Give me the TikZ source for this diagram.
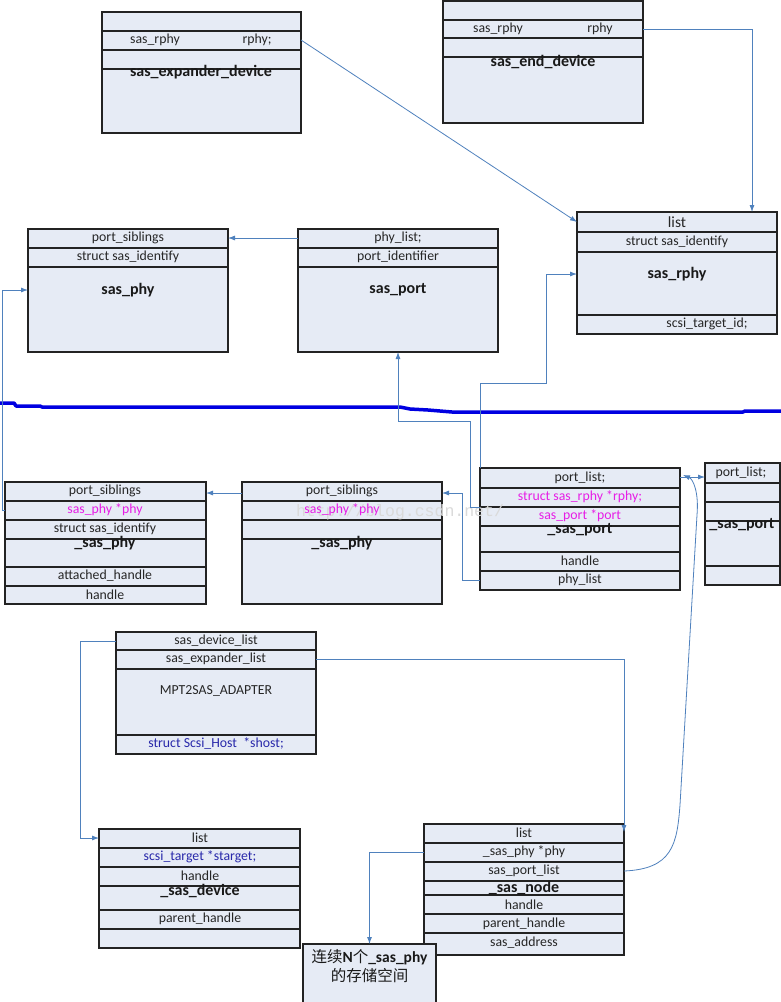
\documentclass[tikz,border=0pt]{standalone}
\usepackage{fontspec}
\setmainfont{Carlito}
\newfontfamily\cjk{Noto Sans CJK SC}
\newfontfamily\wmfont{Liberation Mono}
\usetikzlibrary{arrows.meta}
\definecolor{boxfill}{RGB}{230,235,245}
\definecolor{boxline}{RGB}{35,35,35}
\definecolor{conncol}{RGB}{79,129,189}
\definecolor{magtext}{RGB}{230,30,230}
\definecolor{bluetext}{RGB}{40,40,170}
\definecolor{sepblue}{RGB}{0,0,225}
\definecolor{wmgray}{RGB}{218,218,218}
\newcommand\boxrow[2]{\draw[rowln] (#1.west |- 0,#2) -- (#1.east |- 0,#2);}
\tikzset{
  sbox/.style={draw=boxline, fill=boxfill, line width=1.2pt, inner sep=0pt, outer sep=0pt, anchor=north west},
  rowln/.style={draw=boxline, line width=1.1pt},
  txt/.style={inner sep=0pt, font=\fontsize{13.8}{15}\selectfont, text=black!85},
  btxt/.style={inner sep=0pt, font=\fontsize{16}{17}\selectfont\bfseries, text=black!90},
  mtxt/.style={txt, text=magtext},
  bltxt/.style={txt, text=bluetext},
  conn/.style={draw=conncol, line width=0.8pt},
  arr/.style={conn, -{Latex[length=7pt,width=5pt]}},
}
\begin{document}
\begin{tikzpicture}[x=1pt,y=-1pt]
\fill[white] (0,0) rectangle (781,1002);
\useasboundingbox (0,0) rectangle (781,1002);

% ---------- boxes ----------
\node[sbox, minimum width=199pt, minimum height=121pt] (exp) at (102,12) {};
\boxrow{exp}{31}\boxrow{exp}{50}\boxrow{exp}{69}

\node[sbox, minimum width=200pt, minimum height=122pt] (endd) at (443,1) {};
\boxrow{endd}{20}\boxrow{endd}{38}\boxrow{endd}{57}

\node[sbox, minimum width=200pt, minimum height=122pt] (rphy) at (577,212) {};
\boxrow{rphy}{232}\boxrow{rphy}{252}\boxrow{rphy}{315}

\node[sbox, minimum width=200pt, minimum height=123pt] (phy) at (28,229) {};
\boxrow{phy}{248}\boxrow{phy}{267}

\node[sbox, minimum width=200pt, minimum height=123pt] (port) at (298,229) {};
\boxrow{port}{248}\boxrow{port}{267}

\node[sbox, minimum width=201pt, minimum height=122pt] (lphy) at (5,482) {};
\boxrow{lphy}{501}\boxrow{lphy}{520}\boxrow{lphy}{539}\boxrow{lphy}{567}\boxrow{lphy}{586}

\node[sbox, minimum width=200pt, minimum height=122pt] (mphy) at (242,482) {};
\boxrow{mphy}{501}\boxrow{mphy}{520}\boxrow{mphy}{539}

\node[sbox, minimum width=200pt, minimum height=122pt] (sport) at (480,468) {};
\boxrow{sport}{488}\boxrow{sport}{507}\boxrow{sport}{526}\boxrow{sport}{552}\boxrow{sport}{571}

\node[sbox, minimum width=75pt, minimum height=122pt] (rport) at (705,463) {};
\boxrow{rport}{483}\boxrow{rport}{502}\boxrow{rport}{521}\boxrow{rport}{566}

\node[sbox, minimum width=200pt, minimum height=122pt] (adp) at (116,632) {};
\boxrow{adp}{650}\boxrow{adp}{669}\boxrow{adp}{735}

\node[sbox, minimum width=201pt, minimum height=119pt] (dev) at (99,829) {};
\boxrow{dev}{848}\boxrow{dev}{867}\boxrow{dev}{886}\boxrow{dev}{910}\boxrow{dev}{929}

\node[sbox, minimum width=200pt, minimum height=131pt] (snode) at (424,824) {};
\boxrow{snode}{843}\boxrow{snode}{862}\boxrow{snode}{881}\boxrow{snode}{895}\boxrow{snode}{914}\boxrow{snode}{933}

\node[sbox, minimum width=133pt, minimum height=60pt] (cn) at (303,944) {};

% ---------- watermark ----------
\node[inner sep=0pt, text=wmgray, font=\wmfont\fontsize{16.5}{18}\selectfont] (wm) at (400,512) {http://blog.csdn.net/};

% ---------- texts ----------
\node[txt] (exp-a) at (155,40) {sas\_rphy};
\node[txt] (exp-b) at (257,40) {rphy;};
\node[btxt] (exp-n) at (201,72) {sas\_expander\_device};

\node[txt] (end-a) at (498,29) {sas\_rphy};
\node[txt] (end-b) at (600,29) {rphy};
\node[btxt] (end-n) at (543,62) {sas\_end\_device};

\node[txt, font=\fontsize{15.5}{17}\selectfont] (rphy-a) at (677,222) {list};
\node[txt] (rphy-b) at (677,242) {struct sas\_identify};
\node[btxt] (rphy-n) at (677,274) {sas\_rphy};
\node[txt] (rphy-c) at (707,324) {scsi\_target\_id;};

\node[txt] (phy-a) at (128,238) {port\_siblings};
\node[txt] (phy-b) at (128,257) {struct sas\_identify};
\node[btxt] (phy-n) at (128,290) {sas\_phy};

\node[txt] (port-a) at (398,238) {phy\_list;};
\node[txt] (port-b) at (398,257) {port\_identifier};
\node[btxt] (port-n) at (398,290) {sas\_port};

\node[txt] (lphy-a) at (105,491) {port\_siblings};
\node[mtxt] (lphy-b) at (105,510) {sas\_phy *phy};
\node[txt] (lphy-c) at (105,529) {struct sas\_identify};
\node[btxt] (lphy-n) at (105,543) {\_sas\_phy};
\node[txt] (lphy-d) at (105,576) {attached\_handle};
\node[txt] (lphy-e) at (105,595) {handle};

\node[txt] (mphy-a) at (342,491) {port\_siblings};
\node[mtxt] (mphy-b) at (342,510) {sas\_phy *phy};
\node[btxt] (mphy-n) at (342,543) {\_sas\_phy};

\node[txt] (sport-a) at (580,478) {port\_list;};
\node[mtxt] (sport-b) at (580,497) {struct sas\_rphy *rphy;};
\node[mtxt] (sport-c) at (580,516) {sas\_port *port};
\node[btxt] (sport-n) at (580,530) {\_sas\_port};
\node[txt] (sport-d) at (580,561) {handle};
\node[txt] (sport-e) at (580,580) {phy\_list};

\node[txt] (rport-a) at (741,473) {port\_list;};
\node[btxt] (rport-n) at (742,525) {\_sas\_port};

\node[txt] (adp-a) at (216,641) {sas\_device\_list};
\node[txt] (adp-b) at (216,659) {sas\_expander\_list};
\node[txt] (adp-n) at (216,691) {MPT2SAS\_ADAPTER};
\node[bltxt] (adp-c) at (216,744) {struct Scsi\_Host~ *shost;};

\node[txt] (dev-a) at (200,838) {list};
\node[bltxt] (dev-b) at (200,857) {scsi\_target *starget;};
\node[txt] (dev-c) at (200,876) {handle};
\node[btxt] (dev-n) at (200,891) {\_sas\_device};
\node[txt] (dev-d) at (200,919) {parent\_handle};

\node[txt] (snode-a) at (524,833) {list};
\node[txt] (snode-b) at (524,852) {\_sas\_phy *phy};
\node[txt] (snode-c) at (524,871) {sas\_port\_list};
\node[btxt] (snode-n) at (524,888) {\_sas\_node};
\node[txt] (snode-d) at (524,905) {handle};
\node[txt] (snode-e) at (524,924) {parent\_handle};
\node[txt] (snode-f) at (524,943) {sas\_address};

\node[inner sep=0pt, align=center, font=\fontsize{15.5}{19}\selectfont, text=black!90] (cn-t) at (369.5,966.5)
  {{\cjk 连续}\textbf{N}{\cjk 个}\textbf{\_sas\_phy}\\{\cjk 的存储空间}};

% ---------- separator ----------
\draw[sepblue, line width=3.5pt, line join=round]
  (0,403) -- (14,403) -- (16,406) -- (40,406) -- (42,407) -- (400,407) -- (410,409)
  -- (428,410) -- (452,412) -- (743,412) -- (745,411) -- (781,411);

% ---------- connectors ----------
\draw[arr] (exp.east |- exp-a) -- (rphy.west |- rphy-a);
\draw[arr] (endd.east |- end-a) -| ([xshift=75pt]rphy.north);
\draw[arr] (port.west |- port-a) -- (phy.east |- port-a);
\draw[arr] (lphy.west |- lphy-b) -- (2,510) |- (phy.west |- phy-n);
\draw[arr] (sport.north west) |- (546,383) |- (rphy.west |- rphy-n);
\draw[arr] (sport.west |- 0,507) -- (470,507) |- (398,421) -- (port.south);
\draw[arr] (sport.west |- sport-e) -- (462,580) |- (mphy.east |- 0,493);
\draw[arr] (mphy.west |- 0,493) -- (lphy.east |- 0,493);
\draw[arr] (sport.east |- 0,477) -- (rport.west |- 0,477);
\draw[arr] (adp.west |- adp-a) -- (80,641) |- (dev.west |- dev-a);
\draw[arr] (adp.east |- adp-b) -| ([yshift=-8pt]snode.north east);
\draw[arr] (snode.west |- snode-b) -| (cn.north);
\draw[arr] (snode.east |- snode-c) .. controls (672,869) and (677,845) .. (680,805)
  -- (697,515) .. controls (699,492) and (693,479) .. ([xshift=3pt]sport.east |- 0,475);
\end{tikzpicture}
\end{document}
